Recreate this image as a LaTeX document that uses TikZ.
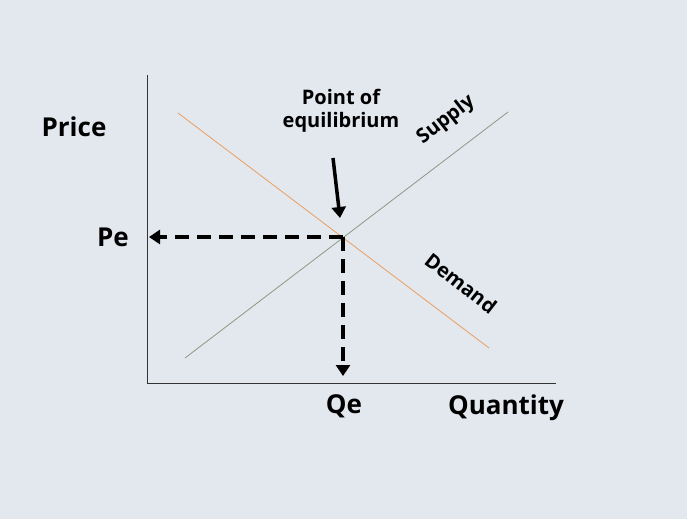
\documentclass[tikz,border=0pt]{standalone}
\usepackage{fontspec}
\setmainfont{Open Sans}
\usetikzlibrary{arrows.meta}
\definecolor{bg}{HTML}{E3E7EE}
\definecolor{sup}{HTML}{8A9A84}
\definecolor{dem}{HTML}{E8A060}
\tikzset{lbl/.style={font=\bfseries\fontsize{26}{28}\selectfont,inner sep=0},
 small/.style={font=\bfseries\fontsize{20}{23}\selectfont,inner sep=0,align=center},
 dasharrow/.style={line width=3.5pt,dash pattern=on 14pt off 8pt,-{Triangle[length=11pt,width=14pt]}}}
\begin{document}
\begin{tikzpicture}[x=1pt,y=-1pt]
\fill[bg] (0,0) rectangle (687,519);
\useasboundingbox (0,0) rectangle (687,519);
\coordinate (top) at (147,75);
\coordinate (o) at (147,383);
\coordinate (xe) at (556,383);
\draw[line width=1pt,black!80] (top) -- (o) -- (xe);
\coordinate (s1) at (185,358); \coordinate (s2) at (508,112);
\coordinate (d1) at (178,113); \coordinate (d2) at (489,348);
\draw[sup,line width=0.8pt] (s1) -- (s2);
\draw[dem,line width=0.8pt] (d1) -- (d2);
\coordinate (eq) at (343,237);
\coordinate (pe) at (149,237);
\coordinate (qe) at (343,376);
\draw[dasharrow] (eq) -- (pe);
\draw[dasharrow] (eq) -- (qe);
\node[lbl] (price) at (74,127) {Price};
\node[lbl] (pel) at (113,237) {Pe};
\node[lbl] (qel) at (344,406) {Qe};
\node[lbl] (qty) at (506,408) {Quantity};
\node[small] (poe) at (341,111) {Point of\\equilibrium};
\draw[line width=3.5pt,-{Triangle[length=11pt,width=14pt]}] (333,158) -- (340,218);
\node[small,rotate=38] (supl) at (446,120) {Supply};
\node[small,rotate=-38] (deml) at (461,283) {Demand};
\end{tikzpicture}
\end{document}
